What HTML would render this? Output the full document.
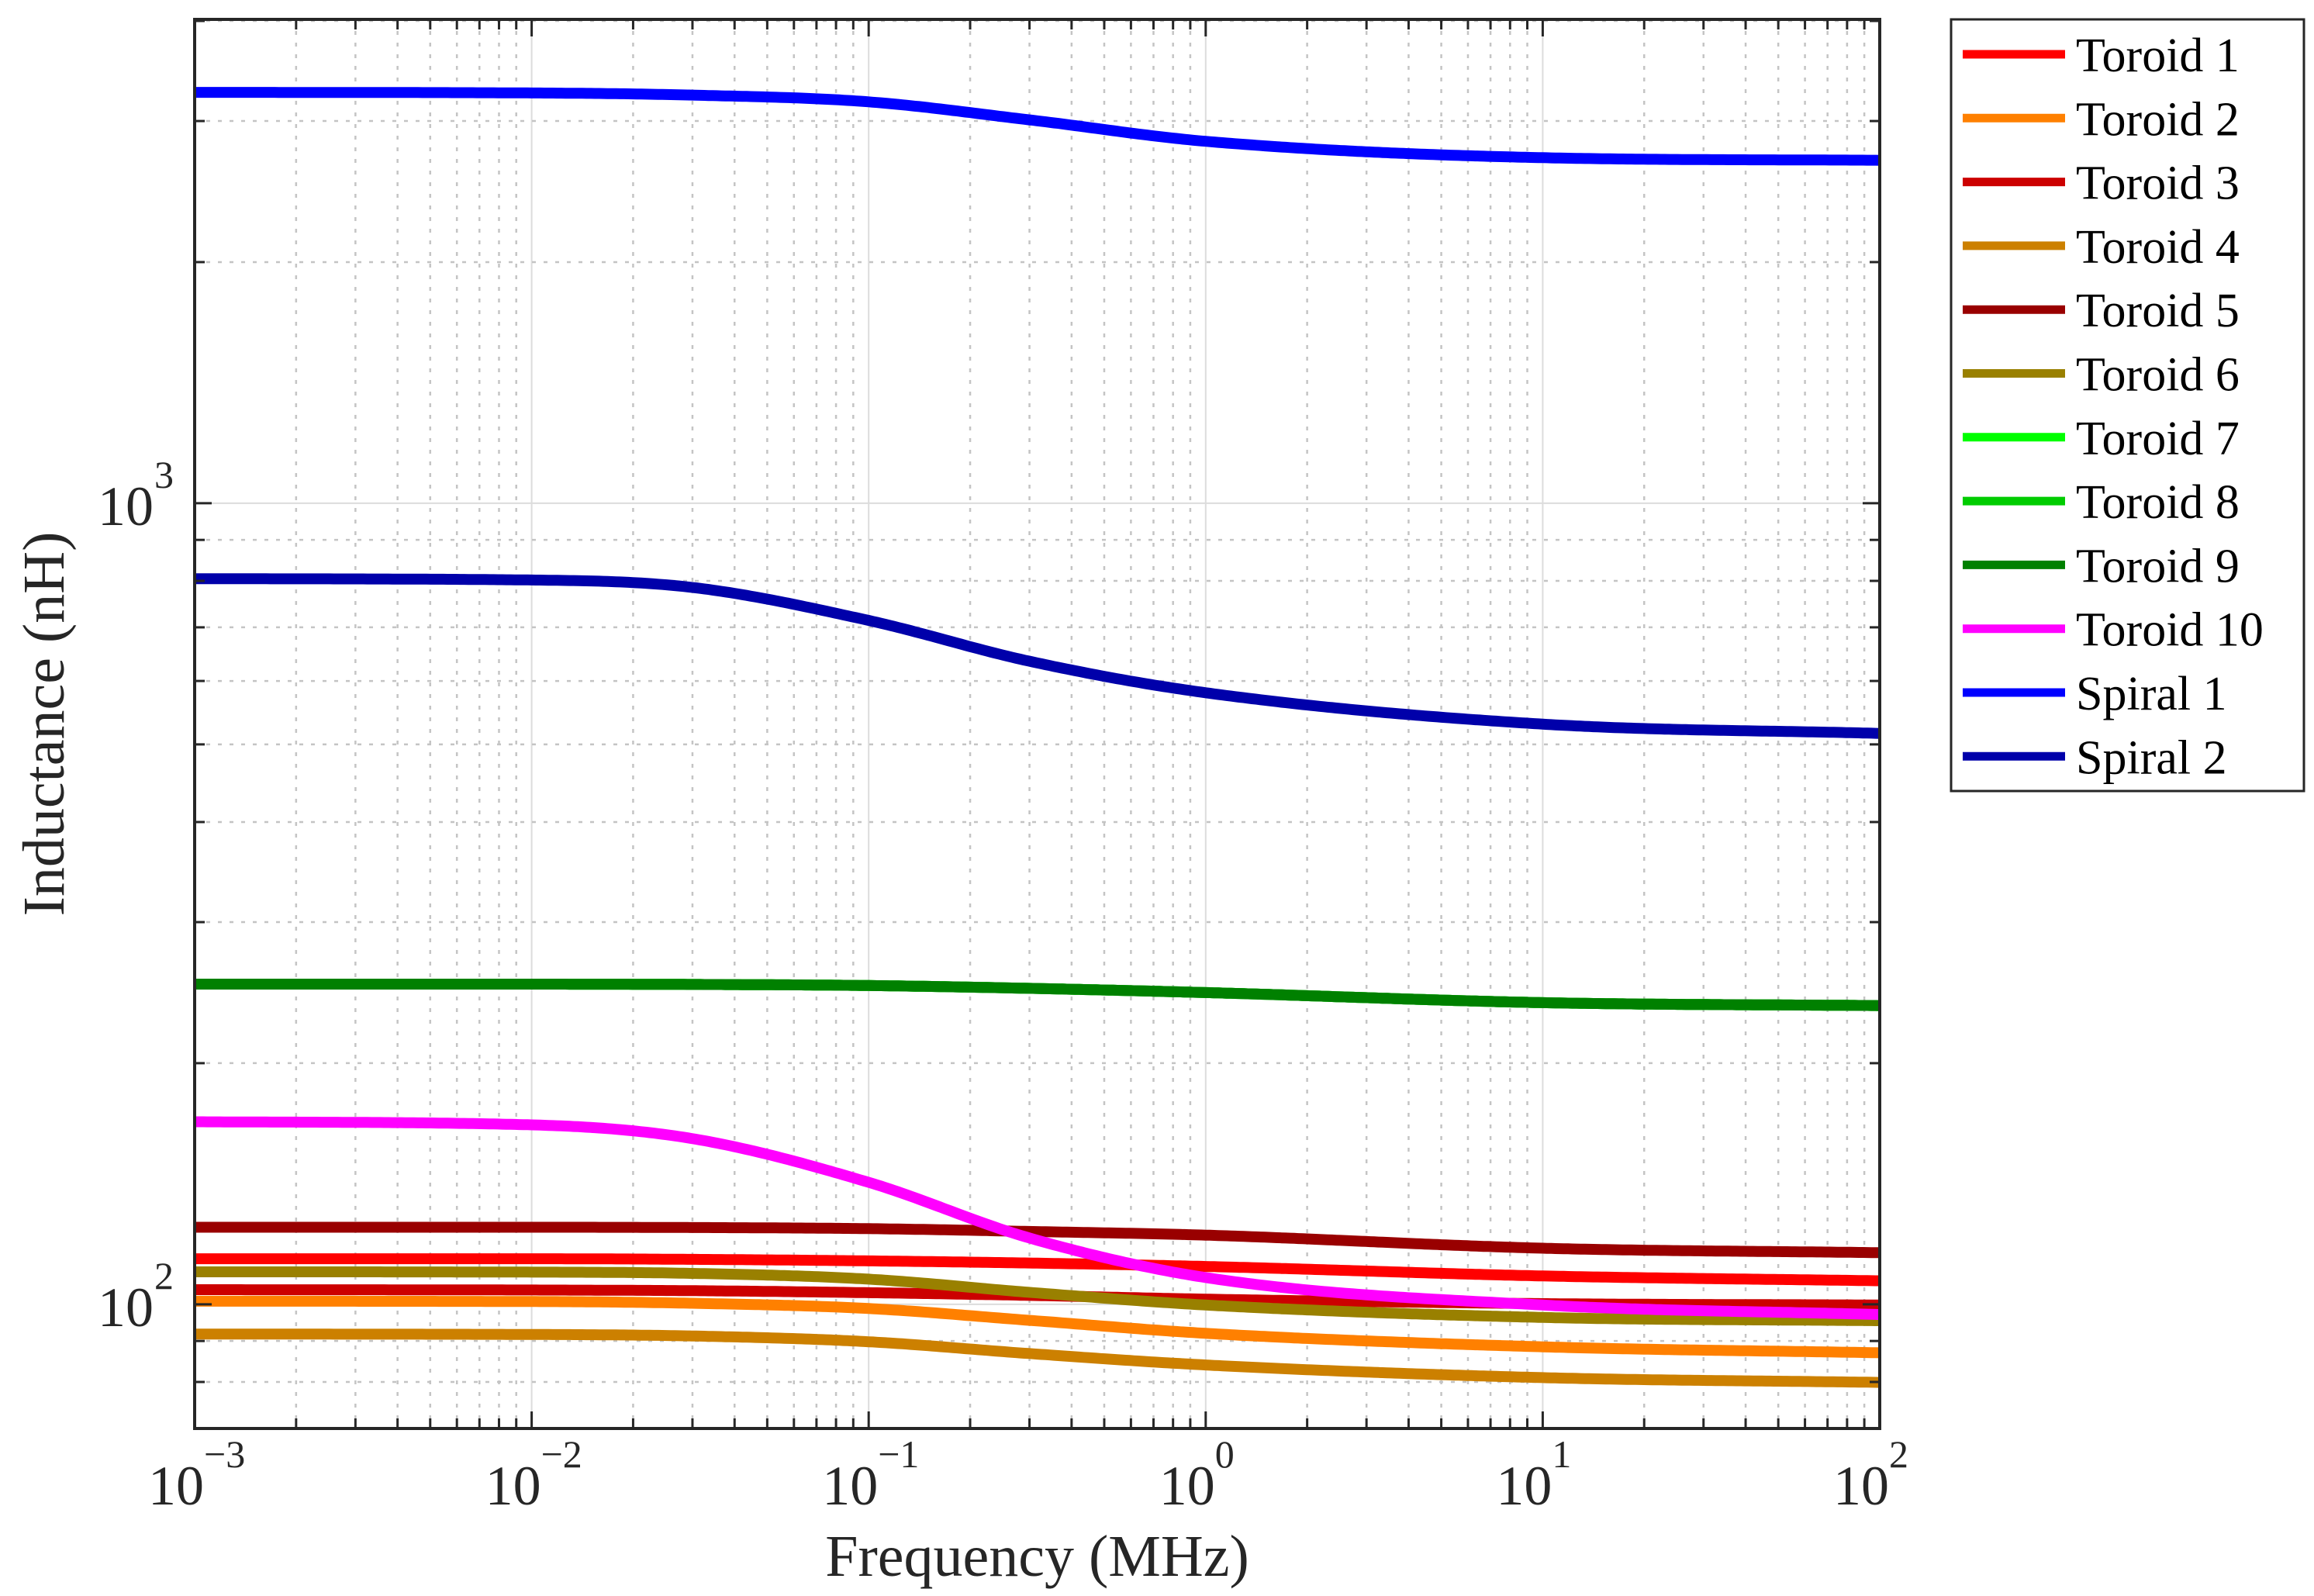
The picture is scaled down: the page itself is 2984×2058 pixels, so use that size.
<!DOCTYPE html>
<html><head><meta charset="utf-8"><style>
html,body{margin:0;padding:0;background:#fff;}
svg{display:block;font-family:"Liberation Serif",serif;}
</style></head><body>
<svg id="chart" width="2984" height="2058" viewBox="0 0 2984 2058">
<g id="grid"></g>
<g id="series"></g>
<g id="axes"></g>
<g id="legend"></g>
</svg>
<script>
const freqs = [0.001, 0.01, 0.03, 0.1, 0.3, 1, 10, 100];
const names = ["Toroid 1","Toroid 2","Toroid 3","Toroid 4","Toroid 5","Toroid 6","Toroid 7","Toroid 8","Toroid 9","Toroid 10","Spiral 1","Spiral 2"];
const colors = ["#ff0000","#ff8000","#cc0000","#cc8000","#990000","#998000","#00ff00","#00cc00","#008000","#ff00ff","#0000ff","#0000aa"];
const toroid1 = [114, 114, 113.8, 113.3, 112.6, 111.5, 108.5, 107];
const toroid2 = [100.9, 100.8, 100.3, 98.8, 95.5, 92, 88.5, 87];
const toroid3 = [104.3, 104.2, 104, 103.4, 102.6, 101.5, 100.2, 99.8];
const toroid4 = [91.8, 91.7, 91.3, 89.8, 86.8, 84, 81, 79.9];
const toroid5 = [124.8, 124.8, 124.7, 124.3, 123.3, 122, 117.5, 116];
const toroid6 = [109.8, 109.7, 109.3, 107.5, 103.5, 99.8, 96.3, 95.4];
const toroid7 = [251, 251, 250.8, 250, 248, 245, 238, 236];
const toroid8 = [251, 251, 250.8, 250, 248, 245, 238, 236];
const toroid9 = [251, 251, 250.8, 250, 248, 245, 238, 236];
const toroid10 = [169, 167.5, 161, 142, 121, 108, 99.8, 97.1];
const spiral1 = [3258, 3252, 3232, 3170, 3010, 2830, 2700, 2680];
const spiral2 = [805, 802, 785, 714, 635, 580, 530, 516];
const allSeries = [toroid1,toroid2,toroid3,toroid4,toroid5,toroid6,toroid7,toroid8,toroid9,toroid10,spiral1,spiral2];
const xTickLabels = ["-3","-2","-1","0","1","2"];
const yTickLabels = ["2","3"];

const L=251,R=2424,T=25,B=1842;
const xMinLog=-3,xMaxLog=2;
const yMinLog=1.845, yMaxLog=3.604;
const NS="http://www.w3.org/2000/svg";
function X(v){return L+(Math.log10(v)-xMinLog)/(xMaxLog-xMinLog)*(R-L);}
function Y(v){return B-(Math.log10(v)-yMinLog)/(yMaxLog-yMinLog)*(B-T);}
function mk(tag,attrs,parent){const e=document.createElementNS(NS,tag);for(const k in attrs)e.setAttribute(k,attrs[k]);parent.appendChild(e);return e;}
const grid=document.getElementById('grid'),ser=document.getElementById('series'),axes=document.getElementById('axes'),leg=document.getElementById('legend');

for(let d=-3;d<=2;d++){for(let m=1;m<=9;m++){const v=m*Math.pow(10,d);if(Math.log10(v)>2.0001)break;const x=X(v);
 if(m===1){const ln=mk('line',{x1:x,x2:x,y1:T,y2:B,stroke:'#dcdcdc','stroke-width':2},grid);
 }
 else{const ln=mk('line',{x1:x,x2:x,y1:T,y2:B,stroke:'#c4c4c4','stroke-width':2.5,'stroke-dasharray':'5,10'},grid);
 }
 const tl=m===1?22:13;
 mk('line',{x1:x,x2:x,y1:B,y2:B-tl,stroke:'#262626','stroke-width':3},axes);
 mk('line',{x1:x,x2:x,y1:T,y2:T+tl,stroke:'#262626','stroke-width':3},axes);
}}
for(let d=1;d<=3;d++){for(let m=1;m<=9;m++){const v=m*Math.pow(10,d);const lv=Math.log10(v);if(lv<yMinLog||lv>yMaxLog)continue;const y=Y(v);
 if(m===1){const ln=mk('line',{x1:L,x2:R,y1:y,y2:y,stroke:'#dcdcdc','stroke-width':2},grid);
 }
 else{const ln=mk('line',{x1:L,x2:R,y1:y,y2:y,stroke:'#c4c4c4','stroke-width':2.5,'stroke-dasharray':'5,10'},grid);
 }
 const tl=m===1?22:13;
 mk('line',{x1:L,x2:L+tl,y1:y,y2:y,stroke:'#262626','stroke-width':3},axes);
 mk('line',{x1:R,x2:R-tl,y1:y,y2:y,stroke:'#262626','stroke-width':3},axes);
}}
// monotone cubic interpolation in log-log space
function monoSpline(xs,ys){const n=xs.length,d=[],m=new Array(n);
 for(let i=0;i<n-1;i++)d.push((ys[i+1]-ys[i])/(xs[i+1]-xs[i]));
 m[0]=d[0];m[n-1]=d[n-2];
 for(let i=1;i<n-1;i++){m[i]=(d[i-1]*d[i]<=0)?0:(d[i-1]+d[i])/2;}
 for(let i=0;i<n-1;i++){if(d[i]===0){m[i]=0;m[i+1]=0;continue;}const a=m[i]/d[i],b=m[i+1]/d[i],s=a*a+b*b;if(s>9){const t=3/Math.sqrt(s);m[i]=t*a*d[i];m[i+1]=t*b*d[i];}}
 return function(x){let i=0;while(i<n-2&&x>xs[i+1])i++;const h=xs[i+1]-xs[i],t=(x-xs[i])/h;
  const h00=2*t*t*t-3*t*t+1,h10=t*t*t-2*t*t+t,h01=-2*t*t*t+3*t*t,h11=t*t*t-t*t;
  return h00*ys[i]+h10*h*m[i]+h01*ys[i+1]+h11*h*m[i+1];};}
const lx=freqs.map(f=>Math.log10(f));
allSeries.forEach((vals,i)=>{
 const sp=monoSpline(lx,vals.map(v=>Math.log10(v)));
 const pts=[];for(let k=0;k<=400;k++){const l=xMinLog+k*(xMaxLog-xMinLog)/400;pts.push(X(Math.pow(10,l)).toFixed(1)+','+Y(Math.pow(10,sp(l))).toFixed(1));}
 const p=mk('polyline',{points:pts.join(' '),fill:'none',stroke:colors[i],'stroke-width':14,'stroke-linejoin':'round'},ser);
 
 
});
const box=mk('rect',{x:L,y:T,width:R-L,height:B-T,fill:'none',stroke:'#262626','stroke-width':4},axes);


xTickLabels.forEach((e,i)=>{const v=Math.pow(10,Number(e));const x=X(v);
 const t=mk('text',{x:x+12,y:1940,'font-size':72,'text-anchor':'end',fill:'#262626'},axes);t.textContent='10';
 
 
 const s=mk('text',{x:x+12,y:1892,'font-size':50,fill:'#262626'},axes);s.textContent=Number(e)<0?'\u2212'+e.slice(1):e;
 
 
});
yTickLabels.forEach(e=>{const y=Y(Math.pow(10,Number(e)));
 const t=mk('text',{x:198,y:y+28,'font-size':72,'text-anchor':'end',fill:'#262626'},axes);t.textContent='10';
 
 
 const s=mk('text',{x:199,y:y-20,'font-size':50,fill:'#262626'},axes);s.textContent=e;
 
 
});
const xl=mk('text',{x:(L+R)/2,y:2032,'font-size':76,'text-anchor':'middle',fill:'#262626'},axes);xl.textContent='Frequency (MHz)';


const yl=mk('text',{x:0,y:0,'font-size':76,'text-anchor':'middle',fill:'#262626',transform:'translate(82,'+((T+B)/2)+') rotate(-90)'},axes);yl.textContent='Inductance (nH)';


const lb=mk('rect',{x:2516,y:25,width:455,height:995,fill:'#fff',stroke:'#262626','stroke-width':3},leg);


names.forEach((n,i)=>{const y=70+82.3*i;
 const g=mk('g',{},leg);
 
 
 mk('line',{x1:2531,x2:2663,y1:y,y2:y,stroke:colors[i],'stroke-width':11},g);
 const t=mk('text',{x:2677,y:y+22,'font-size':62,fill:'#000'},g);t.textContent=n;
});
</script>
</body></html>
